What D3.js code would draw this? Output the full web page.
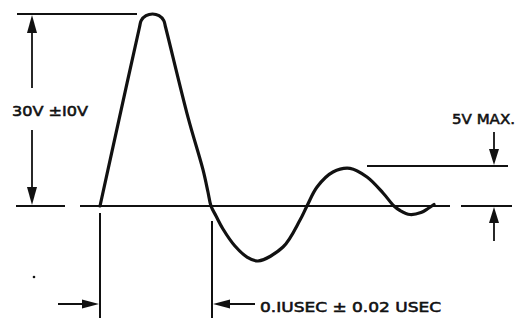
<!DOCTYPE html>
<html>
<head>
<meta charset="utf-8">
<script src="https://cdn.jsdelivr.net/npm/d3@7"></script>
<style>
  html, body { margin: 0; padding: 0; background: #fff; }
  svg { display: block; }
</style>
</head>
<body>
<svg id="chart" width="519" height="318"></svg>
<script>
// ---- data ----
// waveform: time (ns) and voltage (V)
const waveT = [0, 17.6, 35.3, 36.8, 41.1, 46.9, 52.7, 56.9, 58.5, 78.6, 92.0, 96.4, 99.1, 103.6, 109.8, 120.5, 131.3, 141.1, 163.4, 178.6, 184.8, 193.8, 208.0, 223.2, 238.4, 252.7, 262.5, 267.9, 276.8, 286.6, 292.9, 298.2];
const waveV = [0, 14.0, 27.97, 28.98, 29.73, 30, 29.73, 28.98, 27.97, 13.84, 5.63, 2.19, 0, -1.56, -3.59, -6.25, -7.97, -8.59, -6.41, -2.19, 0, 2.97, 5.31, 5.89, 4.53, 2.03, 0, -0.70, -1.33, -1.02, -0.39, 0.23];
// reference levels (V): baseline, ringing limit line, pulse peak
const levels = [0, 6.25, 30];
// pulse-width markers (ns)
const widthMarks = [0, 100];
// labels
const labels = ["30V \u00B1I0V", "5V MAX.", "0.IUSEC \u00B1 0.02 USEC"];

// ---- scales ----
const x = d3.scaleLinear().domain([0, 100]).range([100, 212]);
const y = d3.scaleLinear().domain([0, 30]).range([206, 14]);

const svg = d3.select("#chart");
const ink = "#111";

// arrowhead helper: tip at (tx,ty), direction "up","down","left","right"
function arrow(tx, ty, dir, len = 17, half = 5) {
  let pts;
  if (dir === "down") pts = [[tx, ty], [tx - half, ty - len], [tx + half, ty - len]];
  if (dir === "up") pts = [[tx, ty], [tx - half, ty + len], [tx + half, ty + len]];
  if (dir === "right") pts = [[tx, ty], [tx - len, ty - half], [tx - len, ty + half]];
  if (dir === "left") pts = [[tx, ty], [tx + len, ty - half], [tx + len, ty + half]];
  svg.append("path").attr("d", "M" + pts.join("L") + "Z").attr("fill", ink);
}
function line(x1, y1, x2, y2, w = 2) {
  svg.append("line").attr("x1", x1).attr("y1", y1).attr("x2", x2).attr("y2", y2)
    .attr("stroke", ink).attr("stroke-width", w);
}

const y0 = y(levels[0]), yR = y(levels[1]), yP = y(levels[2]);

// baseline (with a gap on each side)
line(16, y0, 65, y0);
line(80, y0, 450, y0);
line(461, y0, 512, y0);
// peak reference line
line(17, yP, 137, yP);
// ringing limit line
line(367, yR, 508, yR);

// pulse width markers
line(x(widthMarks[0]), 213, x(widthMarks[0]), 318, 2);
line(x(widthMarks[1]), 221, x(widthMarks[1]), 318, 2);

// 30V dimension arrow
line(32, yP + 10, 32, 88, 1.8);
line(32, 130, 32, y0 - 10, 1.8);
arrow(32, yP + 1, "up", 18, 5);
arrow(32, y0 - 1, "down", 18, 5);

// 5V max arrows
line(494, 132, 494, yR - 10, 1.8);
arrow(494, yR - 1, "down", 16, 5);
line(494, y0 + 10, 494, 241, 1.8);
arrow(494, y0 + 1, "up", 16, 5);

// time width arrows
line(58, 304, x(widthMarks[0]) - 8, 304, 1.8);
arrow(x(widthMarks[0]) - 1, 304, "right", 17, 4.5);
line(x(widthMarks[1]) + 8, 304, 255, 304, 1.8);
arrow(x(widthMarks[1]) + 1, 304, "left", 17, 4.5);

// waveform
const wave = waveT.map((t, i) => [t, waveV[i]]);
svg.append("path")
  .datum(wave)
  .attr("fill", "none")
  .attr("stroke", ink)
  .attr("stroke-width", 3.2)
  .attr("stroke-linejoin", "round")
  .attr("stroke-linecap", "round")
  .attr("d", d3.line().x(d => x(d[0])).y(d => y(d[1])).curve(d3.curveCatmullRom.alpha(0.5)));

// stray speck from the original scan
svg.append("circle").attr("cx", 34).attr("cy", 277).attr("r", 1.3).attr("fill", ink);

// labels
const font = "'DejaVu Sans', 'Liberation Sans', sans-serif";
function label(txt, lx, ly, w) {
  svg.append("text").attr("x", lx).attr("y", ly)
    .attr("font-family", font).attr("font-size", 14).attr("fill", ink)
    .attr("stroke", ink).attr("stroke-width", 0.55)
    .attr("textLength", w).attr("lengthAdjust", "spacingAndGlyphs")
    .text(txt);
}
label(labels[0], 12, 116, 76);
label(labels[1], 452, 124, 63);
label(labels[2], 260, 312, 181);
</script>
</body>
</html>
